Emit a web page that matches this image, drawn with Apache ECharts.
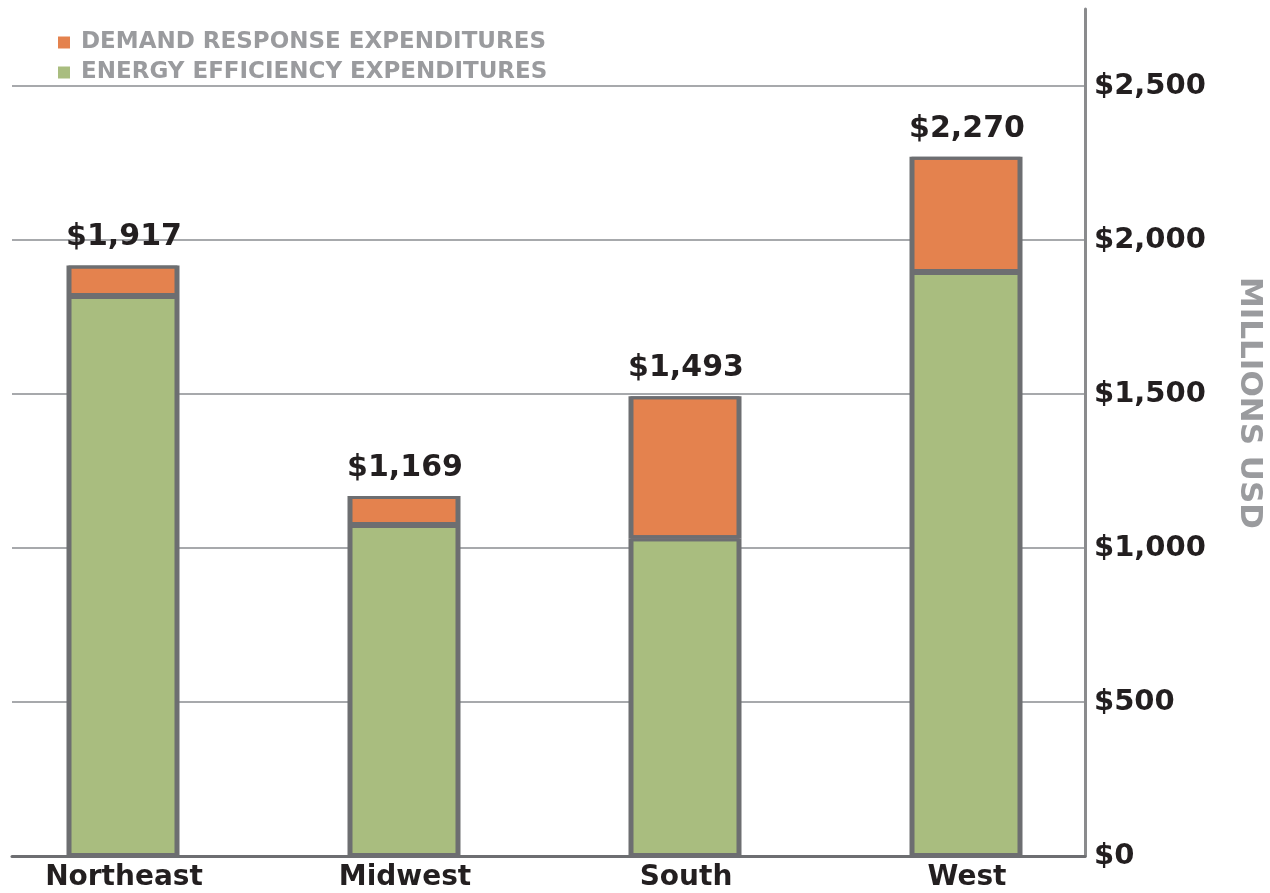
<!DOCTYPE html>
<html>
<head>
<meta charset="utf-8">
<script src="https://cdn.jsdelivr.net/npm/echarts@6/dist/echarts.min.js"></script>
<style>
html,body{margin:0;padding:0;background:#fff;}
#chart{width:1270px;height:893px;}
</style>
</head>
<body>
<div id="chart"></div>
<script>
const categories = ['Northeast', 'Midwest', 'South', 'West'];
const energyEfficiency = [1818, 1075, 1032, 1896];
const demandResponse = [99, 94, 461, 374];
const totals = [1917, 1169, 1493, 2270];
const yTicks = [0, 500, 1000, 1500, 2000, 2500];
const seriesNames = ['DEMAND RESPONSE EXPENDITURES', 'ENERGY EFFICIENCY EXPENDITURES'];
const axisTitle = 'MILLIONS USD';

const FONT = 'DejaVu Sans';
const Y_MAX = 2750;
const chart = echarts.init(document.getElementById('chart'), null, {renderer: 'canvas'});

const fmtMoney = v => '$' + v.toLocaleString('en-US');

const option = {
  animation: false,
  backgroundColor: '#ffffff',
  grid: [
    {left: 124, right: 303, top: 9, bottom: 37, containLabel: false},
    {left: 12, right: 185, top: 9, bottom: 37, containLabel: false}
  ],
  legend: {
    data: seriesNames,
    orient: 'vertical',
    left: 53,
    top: 26,
    itemWidth: 12,
    itemHeight: 12,
    itemGap: 7,
    icon: 'rect',
    selectedMode: false,
    itemStyle: {borderWidth: 0, shadowBlur: 0, shadowOffsetX: 0, shadowOffsetY: 0, shadowColor: 'transparent'},
    textStyle: {fontFamily: FONT, fontWeight: 'bold', fontSize: 23, color: '#9a9b9e', padding: [0, 0, 0, 6]}
  },
  xAxis: [
    {
      gridIndex: 0,
      type: 'category',
      data: categories,
      boundaryGap: false,
      axisLine: {show: false},
      axisTick: {show: false},
      splitLine: {show: false},
      axisLabel: {
        fontFamily: FONT, fontWeight: 'bold', fontSize: 28, color: '#231f20', margin: 8
      }
    },
    {
      gridIndex: 1,
      type: 'value',
      min: 0,
      max: 1,
      axisLine: {show: true, onZero: false, lineStyle: {color: '#6d6e71', width: 3}},
      axisTick: {show: false},
      axisLabel: {show: false},
      splitLine: {show: false}
    }
  ],
  yAxis: [
    {
      gridIndex: 0,
      type: 'value',
      min: 0,
      max: Y_MAX,
      show: false
    },
    {
      gridIndex: 1,
      type: 'value',
      position: 'right',
      min: 0,
      max: Y_MAX,
      interval: 500,
      axisLine: {show: true, onZero: false, lineStyle: {color: '#8a8b8d', width: 3}},
      axisTick: {show: false},
      splitLine: {show: true, showMaxLine: false, lineStyle: {color: '#a7a9ac', width: 2}},
      axisLabel: {
        showMaxLabel: false,
        formatter: v => yTicks.includes(v) ? fmtMoney(v) : '',
        fontFamily: FONT, fontWeight: 'bold', fontSize: 29, color: '#231f20', margin: 9
      }
    }
  ],
  series: [
    {
      name: seriesNames[1],
      type: 'bar',
      xAxisIndex: 0,
      yAxisIndex: 0,
      stack: 'total',
      barWidth: 111,
      clip: false,
      z: 3,
      itemStyle: {color: '#a9bd7f', borderColor: '#6d6e71', borderWidth: 3,
        shadowColor: '#6d6e71', shadowBlur: 0, shadowOffsetX: -2, shadowOffsetY: 0},
      data: energyEfficiency
    },
    {
      name: seriesNames[0],
      type: 'bar',
      xAxisIndex: 0,
      yAxisIndex: 0,
      stack: 'total',
      barWidth: 111,
      clip: false,
      z: 3,
      itemStyle: {color: '#e4824e', borderColor: '#6d6e71', borderWidth: 3,
        shadowColor: '#6d6e71', shadowBlur: 0, shadowOffsetX: -2, shadowOffsetY: 0},
      label: {
        show: true,
        position: 'top',
        distance: 13,
        formatter: p => fmtMoney(totals[p.dataIndex]),
        fontFamily: FONT, fontWeight: 'bold', fontSize: 30, color: '#231f20',
        textShadowBlur: 0, textShadowColor: 'transparent'
      },
      data: demandResponse
    }
  ],
  graphic: [
    {
      type: 'text',
      x: 1249,
      y: 403,
      rotation: -Math.PI / 2,
      style: {
        text: axisTitle,
        fontFamily: FONT, fontWeight: 'bold', fontSize: 31, fill: '#9a9b9e',
        align: 'center', verticalAlign: 'middle'
      }
    }
  ]
};
chart.setOption(option);
</script>
</body>
</html>
